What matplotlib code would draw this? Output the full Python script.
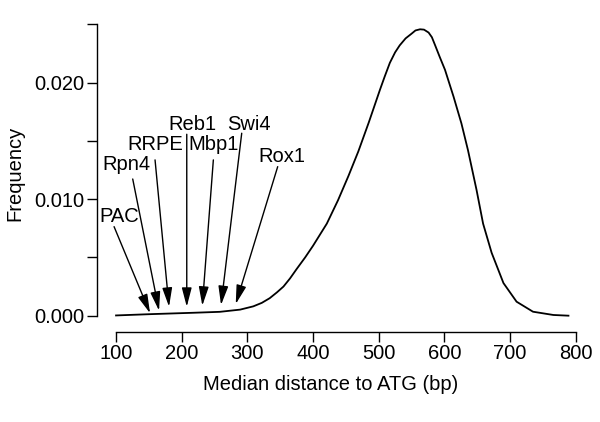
import matplotlib
matplotlib.use("Agg")
import matplotlib.pyplot as plt
from matplotlib.patches import ArrowStyle

plt.rcParams['font.family'] = ['Liberation Sans', 'DejaVu Sans']

# density curve
dist = [100, 152, 218, 258, 289, 309, 322, 334, 345, 355, 365, 375, 388, 400, 421, 438,
        454, 469, 485, 502, 509, 517, 525, 532, 541, 550, 556, 563, 569, 576, 581, 586,
        593, 601, 614, 626, 636, 649, 659, 672, 690, 710, 735, 766, 789]
freq = [0.00002, 0.00013, 0.00025, 0.00033, 0.00052, 0.0008, 0.0011, 0.0015, 0.0020,
        0.0025, 0.0032, 0.0040, 0.0050, 0.0060, 0.0079, 0.0099, 0.0120, 0.0141, 0.0166,
        0.0194, 0.0205, 0.0217, 0.0226, 0.0232, 0.0238, 0.0242, 0.02448, 0.02458,
        0.02455, 0.0243, 0.0239, 0.0232, 0.0222, 0.0211, 0.0188, 0.0165, 0.0142,
        0.0108, 0.0079, 0.0054, 0.0028, 0.0012, 0.00034, 0.00006, 0.0]

# motif annotations
motifs = ['PAC', 'Rpn4', 'RRPE', 'Reb1', 'Mbp1', 'Swi4', 'Rox1']
tip_x = [151.8, 165.5, 180.7, 207.7, 231.4, 259.9, 282.3]
tip_y = [0.00021, 0.00043, 0.00077, 0.00077, 0.00086, 0.00092, 0.00100]
tail_x = [97.0, 125.4, 159.4, 207.7, 248.2, 291.4, 346.2]
tail_y = [0.00764, 0.01173, 0.01337, 0.01557, 0.01337, 0.01566, 0.01279]
label_x = [104.6, 116.3, 159.8, 215.7, 249.2, 302.5, 353.2]
label_y = [0.00807, 0.01251, 0.01423, 0.01594, 0.01423, 0.01594, 0.01316]

x_ticks = [100, 200, 300, 400, 500, 600, 700, 800]
y_ticks = [0.0, 0.005, 0.010, 0.015, 0.020, 0.025]
y_tick_labels = ['0.000', '', '0.010', '', '0.020', '']

FS = 14.5

fig = plt.figure(figsize=(6.0, 4.22), dpi=100)
ax = fig.add_axes([0.16167, 0.2133, 0.8142, 0.7427])

ax.plot(dist, freq, color='black', lw=1.3, solid_joinstyle='round')

style = ArrowStyle('-|>', head_length=1.15, head_width=0.3)
for name, tx, ty, sx, sy, lx, ly in zip(motifs, tip_x, tip_y, tail_x, tail_y, label_x, label_y):
    ax.annotate('', xy=(tx, ty), xytext=(sx, sy),
                arrowprops=dict(arrowstyle=style, color='black', lw=1.0,
                                shrinkA=0, shrinkB=0, mutation_scale=10))
    ax.text(lx, ly, name, ha='center', va='baseline', fontsize=FS)

ax.set_xlim(71, 815)
ax.set_ylim(-0.0014, 0.0255)

for s in ['top', 'right']:
    ax.spines[s].set_visible(False)
ax.spines['left'].set_bounds(0, 0.025)
ax.spines['bottom'].set_bounds(100, 800)
ax.spines['left'].set_linewidth(1.0)
ax.spines['bottom'].set_linewidth(1.0)

ax.set_xticks(x_ticks)
ax.set_xticklabels([str(v) for v in x_ticks])
ax.set_yticks(y_ticks)
ax.set_yticklabels(y_tick_labels)
ax.tick_params(direction='out', length=7, width=1.0, labelsize=FS, pad=2)

ax.set_xlabel('Median distance to ATG (bp)', fontsize=FS)
ax.set_ylabel('Frequency', fontsize=FS)
ax.xaxis.set_label_coords(0.4786, -0.169)
ax.xaxis.label.set_va('center')
ax.yaxis.set_label_coords(-0.168, 0.507)
ax.yaxis.label.set_va('center')

fig.savefig('out.png', dpi=100)
